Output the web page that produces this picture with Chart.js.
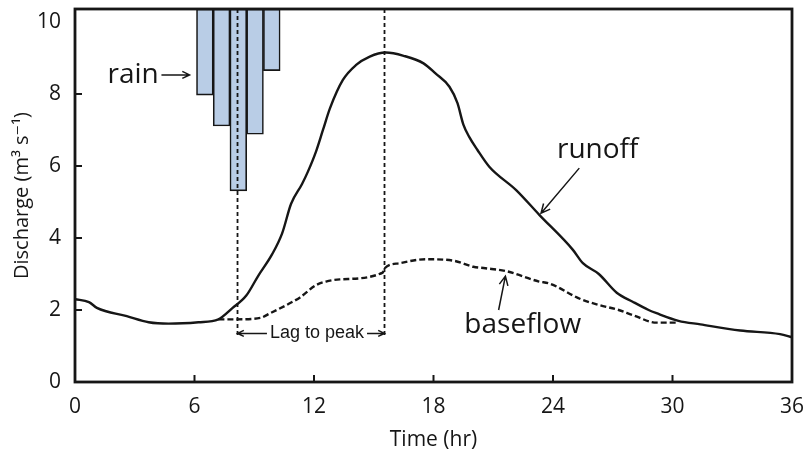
<!DOCTYPE html>
<html>
<head>
<meta charset="utf-8">
<script src="https://cdn.jsdelivr.net/npm/chart.js@4.4.1/dist/chart.umd.min.js"></script>
<style>
  html, body { margin: 0; padding: 0; background: #fff; }
  #wrap { width: 807px; height: 455px; }
</style>
</head>
<body>
<div id="wrap"><canvas id="hydro" width="807" height="455"></canvas></div>
<script>
// storm hydrograph
const runoffTime = [0, 0.7, 1.1, 2.6, 3.7, 4.7, 6.2, 7.2, 7.9, 8.6, 9.2, 9.9, 10.4, 10.85, 11.4, 11.7, 12.1, 12.45, 12.8, 13.45, 14.1, 14.8, 15.6, 16.5, 17.5, 18.1, 18.8, 19.2, 19.5, 19.8, 20.2, 20.8, 22.15, 23.3, 25.0, 25.5, 26.3, 27.2, 28.0, 28.8, 29.2, 30.3, 31.4, 33.4, 35.4, 36];
const runoffQ = [2.30, 2.22, 2.06, 1.83, 1.66, 1.62, 1.66, 1.74, 2.05, 2.40, 2.95, 3.55, 4.13, 4.95, 5.5, 5.85, 6.4, 7.0, 7.6, 8.39, 8.8, 9.04, 9.15, 9.06, 8.85, 8.57, 8.2, 7.75, 7.15, 6.8, 6.45, 5.98, 5.33, 4.65, 3.67, 3.3, 3.0, 2.48, 2.23, 2.0, 1.91, 1.70, 1.60, 1.43, 1.33, 1.24];

const baseTime = [7.2, 8.0, 9.3, 9.8, 10.9, 11.3, 12.1, 12.6, 13.3, 15.45, 15.55, 16.3, 17.6, 19.0, 20.0, 20.6, 21.65, 23.3, 23.8, 25.4, 26.3, 27.3, 28.0, 29.2, 30.2];
const baseQ = [1.74, 1.74, 1.78, 1.91, 2.22, 2.35, 2.69, 2.79, 2.85, 3.04, 3.16, 3.3, 3.41, 3.37, 3.2, 3.16, 3.08, 2.79, 2.74, 2.30, 2.14, 2.0, 1.86, 1.65, 1.65];

// rain bars hang from the top of the frame
const rainTime = [6.52, 7.36, 8.2, 9.04, 9.88];
const rainBottom = [7.97, 7.11, 5.31, 6.88, 8.65];

const lagStart = 8.16;
const lagPeak = 15.54;
const lagLineBottom = 1.28;

const xTicks = [0, 6, 12, 18, 24, 30, 36];
const yTicks = [0, 2, 4, 6, 8, 10];
const yMax = 10.36;

const ink = '#161616';
const font = "'Open Sans', 'DejaVu Sans', sans-serif";

function pts(xs, ys) {
  return xs.map((t, i) => ({ x: t, y: ys[i] }));
}

function arrow(ctx, x1, y1, x2, y2, head) {
  const ang = Math.atan2(y2 - y1, x2 - x1);
  ctx.beginPath();
  ctx.moveTo(x1, y1);
  ctx.lineTo(x2, y2);
  ctx.moveTo(x2 - head * Math.cos(ang - 0.45), y2 - head * Math.sin(ang - 0.45));
  ctx.lineTo(x2, y2);
  ctx.lineTo(x2 - head * Math.cos(ang + 0.45), y2 - head * Math.sin(ang + 0.45));
  ctx.stroke();
}

const frameAndNotes = {
  id: 'frameAndNotes',
  afterDatasetsDraw(chart) {
    const { ctx, chartArea: a, scales: { x, y } } = chart;
    const P = (t, q) => [x.getPixelForValue(t), y.getPixelForValue(q)];
    ctx.save();
    ctx.strokeStyle = ink;
    ctx.fillStyle = ink;

    // frame
    ctx.lineWidth = 2.8;
    ctx.strokeRect(a.left, a.top, a.right - a.left, a.bottom - a.top);

    // inward tick marks
    ctx.lineWidth = 2;
    xTicks.slice(1, -1).forEach(t => {
      const px = x.getPixelForValue(t);
      ctx.beginPath(); ctx.moveTo(px, a.bottom); ctx.lineTo(px, a.bottom - 7); ctx.stroke();
    });
    yTicks.slice(1, -1).forEach(q => {
      const py = y.getPixelForValue(q);
      ctx.beginPath(); ctx.moveTo(a.left, py); ctx.lineTo(a.left + 7, py); ctx.stroke();
    });

    // labels
    ctx.font = '28px ' + font;
    ctx.textBaseline = 'middle';
    ctx.textAlign = 'left';
    const p = P(1.63, 8.53);
    ctx.fillText('rain', p[0], p[1]);
    ctx.fillText('runoff', ...P(24.2, 6.44));
    ctx.fillText('baseflow', ...P(19.55, 1.58));

    ctx.lineWidth = 1.5;
    arrow(ctx, ...P(4.34, 8.53), ...P(5.75, 8.53), 8);
    arrow(ctx, ...P(25.32, 5.94), ...P(23.4, 4.69), 10);
    arrow(ctx, ...P(21.27, 2.0), ...P(21.61, 2.94), 10);

    // lag to peak
    ctx.font = '18px "Liberation Sans", Arial, sans-serif';
    ctx.textAlign = 'center';
    const mid = P(12.15, 1.35);
    ctx.fillText('Lag to peak', mid[0], mid[1]);
    const half = ctx.measureText('Lag to peak').width / 2 + 3;
    ctx.lineWidth = 1.5;
    arrow(ctx, mid[0] - half, mid[1], P(lagStart, 0)[0], mid[1], 7);
    arrow(ctx, mid[0] + half, mid[1], P(lagPeak, 0)[0], mid[1], 7);

    ctx.restore();
  }
};

new Chart(document.getElementById('hydro'), {
  type: 'line',
  data: {
    datasets: [
      {
        label: 'runoff',
        data: pts(runoffTime, runoffQ),
        borderColor: ink,
        borderWidth: 2.4,
        pointRadius: 0,
        cubicInterpolationMode: 'monotone',
        order: 1
      },
      {
        label: 'baseflow',
        data: pts(baseTime, baseQ),
        borderColor: ink,
        borderWidth: 2.4,
        borderDash: [6, 3],
        pointRadius: 0,
        cubicInterpolationMode: 'monotone',
        order: 1
      },
      {
        label: 'lag start',
        data: [{ x: lagStart, y: yMax }, { x: lagStart, y: lagLineBottom }],
        borderColor: ink,
        borderWidth: 1.8,
        borderDash: [4, 3],
        pointRadius: 0,
        order: 0
      },
      {
        label: 'peak',
        data: [{ x: lagPeak, y: yMax }, { x: lagPeak, y: lagLineBottom }],
        borderColor: ink,
        borderWidth: 1.8,
        borderDash: [4, 3],
        pointRadius: 0,
        order: 0
      },
      {
        type: 'bar',
        label: 'rain',
        data: rainTime.map((t, i) => ({ x: t, y: [rainBottom[i], yMax] })),
        backgroundColor: '#b9cde6',
        borderColor: ink,
        borderWidth: 1.6,
        borderSkipped: false,
        barPercentage: 1,
        categoryPercentage: 1,
        order: 3
      }
    ]
  },
  options: {
    responsive: false,
    animation: false,
    devicePixelRatio: 1,
    layout: { padding: { top: 9, right: 15, left: 0, bottom: 0 } },
    plugins: { legend: { display: false }, tooltip: { enabled: false } },
    scales: {
      x: {
        type: 'linear',
        min: 0,
        max: 36,
        offset: false,
        grid: { display: false },
        border: { display: false },
        afterBuildTicks: s => { s.ticks = xTicks.map(v => ({ value: v })); },
        afterFit: s => { s.height = 73; s.paddingLeft = 0; s.paddingRight = 0; },
        ticks: { color: ink, font: { family: font, size: 21 }, padding: 4, maxRotation: 0 },
        title: { display: true, text: 'Time (hr)', color: ink, font: { family: font, size: 21 }, padding: { top: 0, bottom: 2 } }
      },
      y: {
        min: 0,
        max: yMax,
        grid: { display: false },
        border: { display: false },
        afterBuildTicks: s => { s.ticks = yTicks.map(v => ({ value: v })); },
        afterFit: s => { s.width = 75; s.paddingTop = 0; s.paddingBottom = 0; },
        ticks: { color: ink, font: { family: font, size: 21 }, padding: 6 },
        title: { display: true, text: 'Discharge (m³ s⁻¹)', color: ink, font: { family: font, size: 20 }, padding: { top: 10, bottom: 0 } }
      }
    }
  },
  plugins: [frameAndNotes]
});
</script>
</body>
</html>
